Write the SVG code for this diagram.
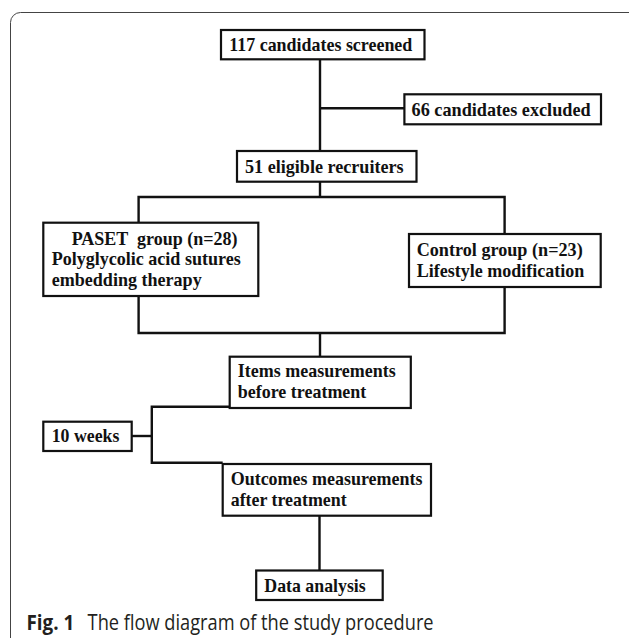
<svg xmlns="http://www.w3.org/2000/svg" width="629" height="638" viewBox="0 0 629 638">
<style>
.box{fill:#fff;stroke:#111;stroke-width:2.2}
.t{font-family:"Liberation Serif","Times New Roman",serif;font-weight:bold;font-size:19.5px;fill:#111}
.ln{fill:none;stroke:#111;stroke-width:2.4;stroke-linejoin:miter}
.cap{font-family:"Open Sans","Noto Sans",sans-serif;font-size:21px;fill:#231f20}
</style>
<rect x="10.5" y="12.5" width="640" height="660" rx="10" ry="10" fill="#fff" stroke="#444" stroke-width="1"/>
<g id="connectors">
<polyline class="ln" points="320,59 320,151"/>
<polyline class="ln" points="320,108.3 404.4,108.3"/>
<polyline class="ln" points="320,181.7 320,197"/>
<polyline class="ln" points="138.6,222.7 138.6,197 504.6,197 504.6,234"/>
<polyline class="ln" points="138.6,296 138.6,333 504.6,333 504.6,287"/>
<polyline class="ln" points="320,333 320,356.7"/>
<polyline class="ln" points="229.7,406.7 151.8,406.7 151.8,462.7 222.7,462.7"/>
<polyline class="ln" points="131.7,436 151.8,436"/>
<polyline class="ln" points="319.5,515.7 319.5,571"/>
</g>
<g id="n1"><rect class="box" x="221" y="30" width="203.5" height="29.3"/><text class="t" x="229.3" y="51" textLength="183" lengthAdjust="spacingAndGlyphs">117 candidates screened</text></g>
<g id="n2"><rect class="box" x="404.4" y="94.3" width="196.6" height="30"/><text class="t" x="411.6" y="115.8" textLength="179" lengthAdjust="spacingAndGlyphs">66 candidates excluded</text></g>
<g id="n3"><rect class="box" x="237" y="151" width="179.5" height="30.7"/><text class="t" x="245" y="172.8" textLength="158.6" lengthAdjust="spacingAndGlyphs">51 eligible recruiters</text></g>
<g id="n4"><rect class="box" x="43.3" y="222.7" width="215" height="73.3"/>
<text class="t" x="71.7" y="244.5" textLength="165.7" lengthAdjust="spacingAndGlyphs" xml:space="preserve">PASET  group (n=28)</text>
<text class="t" x="51.7" y="265.2" textLength="189" lengthAdjust="spacingAndGlyphs">Polyglycolic acid sutures</text>
<text class="t" x="51.7" y="285.9" textLength="150" lengthAdjust="spacingAndGlyphs">embedding therapy</text></g>
<g id="n5"><rect class="box" x="409" y="234" width="191.7" height="53"/>
<text class="t" x="416.7" y="256.2" textLength="166" lengthAdjust="spacingAndGlyphs">Control group (n=23)</text>
<text class="t" x="416.7" y="276.9" textLength="167.7" lengthAdjust="spacingAndGlyphs">Lifestyle modification</text></g>
<g id="n6"><rect class="box" x="229.7" y="356.7" width="181.1" height="51.3"/>
<text class="t" x="237.8" y="377.2" textLength="158" lengthAdjust="spacingAndGlyphs">Items measurements</text>
<text class="t" x="237.8" y="398.2" textLength="128.5" lengthAdjust="spacingAndGlyphs">before treatment</text></g>
<g id="n7"><rect class="box" x="43.3" y="421.7" width="88.4" height="29.3"/><text class="t" x="51.7" y="442" textLength="67.7" lengthAdjust="spacingAndGlyphs">10 weeks</text></g>
<g id="n8"><rect class="box" x="222.7" y="464" width="208.3" height="51.7"/>
<text class="t" x="230.7" y="485.2" textLength="191.7" lengthAdjust="spacingAndGlyphs">Outcomes measurements</text>
<text class="t" x="230.7" y="506.2" textLength="116" lengthAdjust="spacingAndGlyphs">after treatment</text></g>
<g id="n9"><rect class="box" x="256.2" y="570.5" width="126.5" height="29.5"/><text class="t" x="264.3" y="592" textLength="101.4" lengthAdjust="spacingAndGlyphs">Data analysis</text></g>
<text class="cap" x="26.5" y="629.5" font-weight="bold" textLength="47.8" lengthAdjust="spacingAndGlyphs">Fig. 1</text>
<text class="cap" x="87.6" y="629.5" textLength="346" lengthAdjust="spacingAndGlyphs">The flow diagram of the study procedure</text>
</svg>
